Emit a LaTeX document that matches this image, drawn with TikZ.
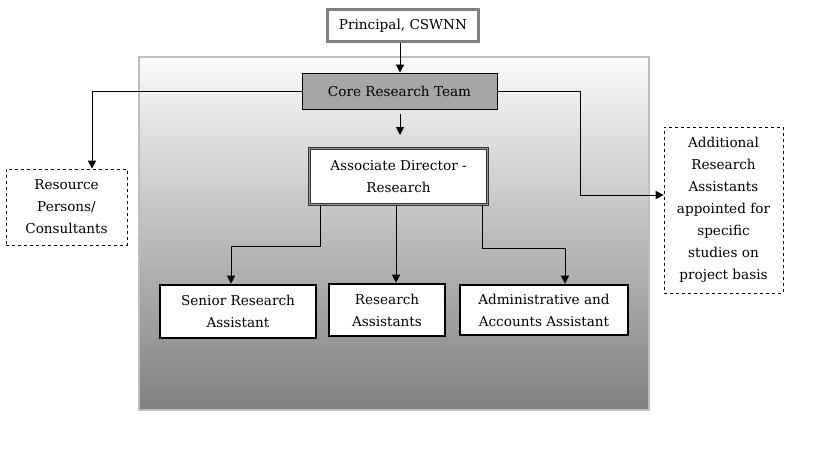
\documentclass[tikz,border=0pt]{standalone}
\usepackage{fontspec}
\setmainfont{DejaVu Serif}
\usetikzlibrary{arrows.meta}
\begin{document}
\begin{tikzpicture}[x=1pt,y=-1pt,
  every node/.style={font=\fontsize{13.6}{22}\selectfont, align=center, inner sep=0pt},
  solidbox/.style={draw=black, line width=2.6pt, fill=white},
  dashbox/.style={draw=black, dashed, line width=0.7pt, fill=white},
  conn/.style={draw=black, line width=0.8pt, -{Triangle[length=8pt,width=8pt]}}]
\useasboundingbox (0,0) rectangle (819,460);
% big gradient panel
\shade[top color=white!98!black, middle color=black!17, bottom color=black!50] (139,57) rectangle (649,410);
\draw[draw=black!25, line width=2pt] (139,57) rectangle (649,410);
% nodes
\node[draw=black!50, line width=3pt, fill=white, minimum width=151pt, minimum height=32pt] (prin) at (403,25.5) {Principal, CSWNN};
\node[draw=black, line width=0.8pt, fill=black!35, minimum width=195pt, minimum height=36pt] (core) at (399.5,91) {Core Research Team};
\coordinate (c2) at (400,114);
\node[draw=black!80, line width=0.7pt, double=black!40, double distance=1.4pt, fill=white, minimum width=178pt, minimum height=56pt] (ad) at (398.5,176.5) {Associate Director -\\Research};
\node[dashbox, minimum width=121pt, minimum height=76pt] (res) at (66.5,207) {Resource\\Persons/\\Consultants};
\node[dashbox, minimum width=119pt, minimum height=166pt] (add) at (723.5,210) {Additional\\Research\\Assistants\\appointed for\\specific\\studies on\\project basis};
\node[solidbox, minimum width=156pt, minimum height=53pt] (sra) at (238,311.5) {Senior Research\\Assistant};
\node[solidbox, minimum width=116pt, minimum height=52pt] (ra) at (387,310) {Research\\Assistants};
\node[solidbox, minimum width=168pt, minimum height=50pt] (aaa) at (544,310) {Administrative and\\Accounts Assistant};
% connectors
\draw[conn] (prin.south -| 400,0) -- (core.north -| 400,0);
\draw[conn] (c2) -- (400,135) coordinate (c3);
\draw[conn] (core.west) -| (res.north -| 92,0);
\draw[conn] (core.east) -| (580,195) -- (add.west |- 0,195);
\draw[conn] (ad.south -| 320,0) |- (231,246) -- (sra.north -| 231,0);
\draw[conn] (ad.south -| 396,0) -- (ra.north -| 396,0);
\draw[conn] (ad.south -| 482,0) |- (565,248) -- (aaa.north -| 565,0);
\end{tikzpicture}
\end{document}
